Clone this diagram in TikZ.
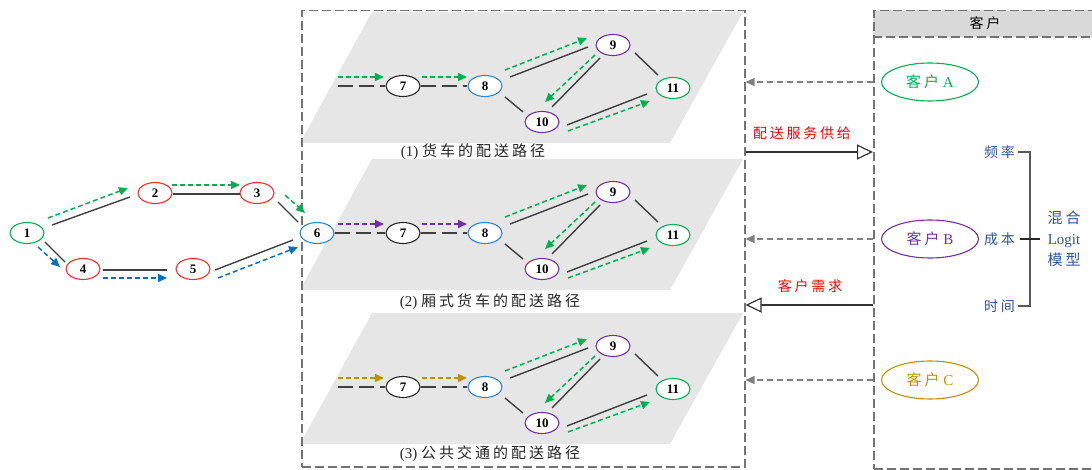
\documentclass[tikz,border=0pt]{standalone}
\usepackage{fontspec}
\setmainfont{Liberation Serif}
\newfontfamily\cjk[LetterSpace=20]{Noto Sans CJK SC}
\usetikzlibrary{arrows.meta,calc,shapes.geometric}
\definecolor{cgreen}{HTML}{00B050}
\definecolor{cred}{HTML}{FF2A2A}
\definecolor{cblue}{HTML}{2E86D0}
\definecolor{cablue}{HTML}{0070C0}
\definecolor{cpurple}{HTML}{7030A0}
\definecolor{cgold}{HTML}{BF9000}
\definecolor{cblack}{HTML}{262626}
\definecolor{planefill}{HTML}{E6E6E6}
\definecolor{headfill}{HTML}{D9D9D9}
\definecolor{labblue}{HTML}{2F5597}
\tikzset{
  num/.style={ellipse, draw, fill=white, line width=1.1pt, minimum width=34pt, minimum height=21pt, inner sep=0pt, font=\bfseries\fontsize{13}{13}\selectfont},
  link/.style={draw=black!75, line width=1.4pt},
  route/.style={draw=#1, line width=1.5pt, dash pattern=on 5pt off 3pt, -{Triangle[length=9pt,width=8pt]}},
  longdash/.style={draw=black!75, line width=1.4pt, dash pattern=on 15pt off 6pt},
  frame/.style={draw=black!55, line width=1.5pt, dash pattern=on 9pt off 4pt},
  grayarrow/.style={draw=black!50, line width=1.2pt, dash pattern=on 6pt off 4pt, -{Triangle[length=9pt,width=8pt]}},
  openarrow/.style={draw=black!80, line width=1.2pt, -{Triangle[open,length=16pt,width=15pt]}},
  cust/.style={ellipse, draw, line width=1.1pt, minimum width=97pt, minimum height=38pt, inner sep=0pt, font=\fontsize{15}{15}\selectfont},
  caption/.style={font=\fontsize{15}{15}\selectfont, text=black!85},
  redlab/.style={font=\fontsize{14}{14}\selectfont, text=red},
  bluelab/.style={font=\fontsize{14}{14}\selectfont, text=labblue, inner sep=3pt},
  bracket/.style={draw=black!65, line width=1.4pt}
}
\newcommand\plane[1]{%
  \fill[planefill] (372,{#1-74}) -- (743,{#1-74}) -- (670,{#1+57}) -- (300,{#1+57}) -- cycle;}
\newcommand\routenet[2]{%
  \node[num,draw=cblack] (#1-7) at (403,{86+#2}) {7};
  \node[num,draw=cblue] (#1-8) at (485,{86+#2}) {8};
  \node[num,draw=cpurple] (#1-9) at (613,{45+#2}) {9};
  \node[num,draw=cpurple] (#1-10) at (542,{122+#2}) {10};
  \node[num,draw=cgreen] (#1-11) at (673,{88+#2}) {11};
  \draw[link] ([shift={(25,-9)}]#1-8.center) -- ([shift={(-25,2)}]#1-9.center);
  \draw[route=cgreen] ([shift={(20,-16)}]#1-8.center) -- ([shift={(-26,-7)}]#1-9.center);
  \draw[link] ([shift={(20,11)}]#1-8.center) -- ([shift={(-19,-10)}]#1-10.center);
  \draw[link] ([shift={(-13,13)}]#1-9.center) -- ([shift={(10,-15)}]#1-10.center);
  \draw[route=cgreen] ([shift={(-18,10)}]#1-9.center) -- ([shift={(3,-20)}]#1-10.center);
  \draw[link] ([shift={(22,8)}]#1-9.center) -- ([shift={(-15,-13)}]#1-11.center);
  \draw[link] ([shift={(25,3)}]#1-10.center) -- ([shift={(-26,6)}]#1-11.center);
  \draw[route=cgreen] ([shift={(26,9)}]#1-10.center) -- ([shift={(-23,13)}]#1-11.center);
}
\begin{document}
\begin{tikzpicture}[x=1pt,y=-1pt]
\useasboundingbox (0,0) rectangle (1092,470);
% planes
\plane{86}
\plane{233}
\plane{387}
% frames
\node[frame, anchor=north west, minimum width=443pt, minimum height=456pt, inner sep=0pt] (mid) at (301,10) {};
\fill[headfill] (873,10) rectangle (1100,37);
\node[frame, anchor=north west, minimum width=227pt, minimum height=458pt, inner sep=0pt] (custbox) at (873,10) {};
\draw[frame] (873,37) -- (1100,37);
\node[font=\fontsize{14}{14}\selectfont] (head) at (985,23) {\cjk 客户};
% left graph
\node[num,draw=cgreen] (n1) at (27,233) {1};
\node[num,draw=cred] (n2) at (155,193) {2};
\node[num,draw=cred] (n3) at (257,193) {3};
\node[num,draw=cred] (n4) at (83,269) {4};
\node[num,draw=cred] (n5) at (193,269) {5};
\node[num,draw=cblue] (n6) at (317,233) {6};
\draw[link] ([shift={(25,-8)}]n1.center) -- ([shift={(-25,4)}]n2.center);
\draw[route=cgreen] ([shift={(21,-15)}]n1.center) -- ([shift={(-27,-5)}]n2.center);
\draw[link] ([shift={(18,1)}]n2.center) -- ([shift={(-17,1)}]n3.center);
\draw[route=cgreen] ([shift={(17,-8)}]n2.center) -- ([shift={(-17,-8)}]n3.center);
\draw[link] ([shift={(21,9)}]n3.center) -- ([shift={(-19,-11)}]n6.center);
\draw[route=cgreen] ([shift={(28,2)}]n3.center) -- ([shift={(-12,-20)}]n6.center);
\draw[link] ([shift={(18,9)}]n1.center) -- ([shift={(-18,-7)}]n4.center);
\draw[route=cablue] ([shift={(11,14)}]n1.center) -- ([shift={(-23,-2)}]n4.center);
\draw[link] ([shift={(20,1)}]n4.center) -- ([shift={(-26,1)}]n5.center);
\draw[route=cablue] ([shift={(20,9)}]n4.center) -- ([shift={(-26,9)}]n5.center);
\draw[link] ([shift={(22,1)}]n5.center) -- ([shift={(-24,7)}]n6.center);
\draw[route=cablue] ([shift={(25,9)}]n5.center) -- ([shift={(-19,14)}]n6.center);
% panel 1
\routenet{a}{0}
\coordinate (a-s) at (338,86);
\draw[longdash] (a-s) -- (a-7);
\draw[longdash] (a-7) -- (a-8);
\draw[route=cgreen] ([shift={(0,-9)}]a-s) -- ([shift={(-19,-9)}]a-7.center);
\draw[route=cgreen] ([shift={(19,-9)}]a-7.center) -- ([shift={(-18,-9)}]a-8.center);
\node[caption] (cap1) at (473,152) {(1) {\cjk 货车的配送路径}};
% panel 2
\routenet{b}{147}
\draw[longdash] (n6) -- (b-7);
\draw[longdash] (b-7) -- (b-8);
\draw[route=cpurple] ([shift={(21,-9)}]n6.center) -- ([shift={(-19,-9)}]b-7.center);
\draw[route=cpurple] ([shift={(19,-9)}]b-7.center) -- ([shift={(-18,-9)}]b-8.center);
\node[caption] (cap2) at (490,302) {(2) {\cjk 厢式货车的配送路径}};
% panel 3
\routenet{c}{301}
\coordinate (c-s) at (338,387);
\draw[longdash] (c-s) -- (c-7);
\draw[longdash] (c-7) -- (c-8);
\draw[route=cgold] ([shift={(0,-9)}]c-s) -- ([shift={(-19,-9)}]c-7.center);
\draw[route=cgold] ([shift={(19,-9)}]c-7.center) -- ([shift={(-18,-9)}]c-8.center);
\node[caption] (cap3) at (490,454) {(3) {\cjk 公共交通的配送路径}};
% customers
\node[cust,draw=cgreen,text=cgreen] (cA) at (930,82) {{\cjk 客户} A};
\node[cust,draw=cpurple,text=cpurple] (cB) at (930,239) {{\cjk 客户} B};
\node[cust,draw=cgold,text=cgold] (cC) at (930,380) {{\cjk 客户} C};
\draw[grayarrow] (cA.center -| custbox.west) -- (cA.center -| mid.east);
\draw[grayarrow] (cB.center -| custbox.west) -- (cB.center -| mid.east);
\draw[grayarrow] (cC.center -| custbox.west) -- (cC.center -| mid.east);
% supply / demand
\coordinate (sup) at (800,152);
\coordinate (dem) at (800,305);
\draw[openarrow] (sup -| mid.east) -- (sup -| custbox.west);
\node[redlab] (suplab) at (802,133) {\cjk 配送服务供给};
\draw[openarrow] (dem -| custbox.west) -- (dem -| mid.east);
\node[redlab] (demlab) at (810,286) {\cjk 客户需求};
% mixed logit
\node[bluelab, anchor=east] (fq) at (1018,152) {\cjk 频率};
\node[bluelab, anchor=east] (cb) at (1018,239) {\cjk 成本};
\node[bluelab, anchor=east] (sj) at (1018,306) {\cjk 时间};
\coordinate (brk) at (1030,239);
\draw[bracket] (fq.east) -| (brk) |- (sj.east);
\node[font=\fontsize{15}{21}\selectfont, text=labblue, align=center, inner sep=2pt] (mx) at (1064,239) {{\cjk 混合}\\Logit\\{\cjk 模型}};
\draw[draw=black!85, line width=1.2pt] ([xshift=2]cb.east) -- ([xshift=22]cb.east);
\end{tikzpicture}
\end{document}
